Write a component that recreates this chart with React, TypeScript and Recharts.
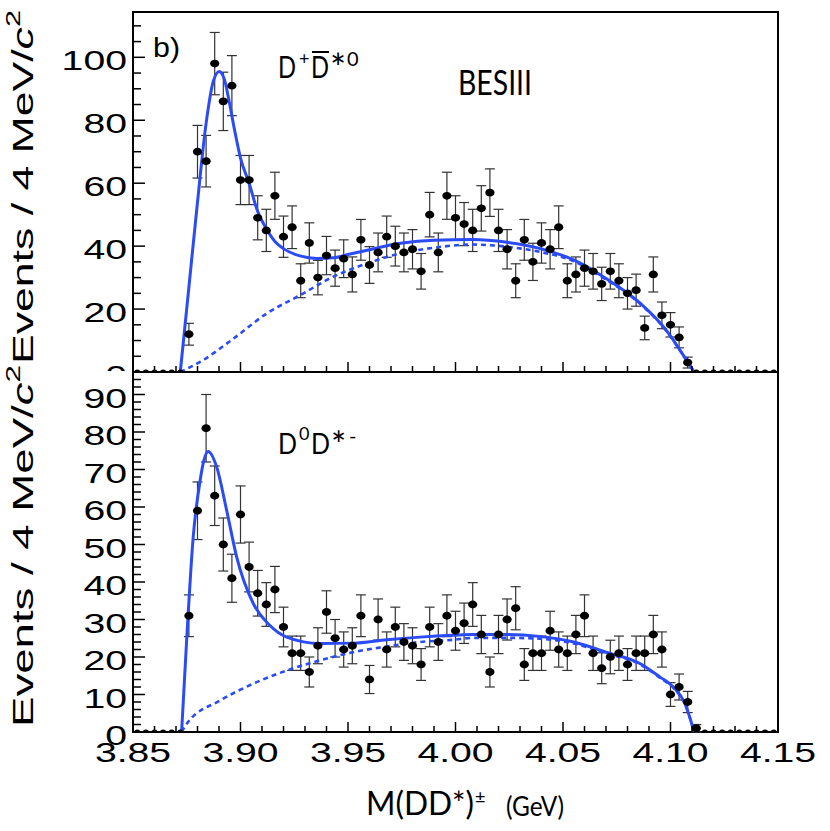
import React from "react"
import { ComposedChart, Line, Scatter, ErrorBar, XAxis, YAxis, ReferenceArea } from "recharts"

// 4 MeV bins, first bin centre at 3.852 GeV
const binStart = 3.852
const binWidth = 0.004

// D+ D*0bar events per bin (upper panel)
const plusCounts = [
  0, 0, 0, 0, 0, 0,
  12, 70, 67, 98, 86, 91, 61, 61, 49, 45,
  56, 43, 46, 29, 41, 30, 37, 33, 36, 31,
  42, 34, 38, 43, 40, 38, 39, 32, 50, 38,
  56, 49, 47, 45, 52, 57, 45, 39, 29, 42,
  35, 41, 39, 46, 29, 31, 33, 32, 28, 32,
  29, 25, 26, 14, 31, 18, 15, 11, 3,
  0, 0, 0, 0, 0, 0, 0, 0, 0, 0,
]

// D0 D*- events per bin (lower panel)
const zeroCounts = [
  0, 0, 0, 0, 0, 0,
  31, 59, 81, 63, 50, 41, 58, 44, 37, 34,
  38, 28, 21, 21, 16, 23, 32, 25, 22, 23,
  31, 14, 30, 22, 28, 24, 23, 18, 28, 24,
  31, 27, 29, 34, 26, 16, 26, 30, 33, 18,
  21, 21, 27, 22, 21, 26, 31, 21, 17, 20,
  21, 18, 21, 21, 26, 22, 10, 12, 8, 1,
  0, 0, 0, 0, 0, 0, 0, 0, 0,
]

// fit curves: [mass, events]
const plusFit = [
  [3.872, 0], [3.876, 27], [3.88, 54], [3.884, 79], [3.8874, 92.5], [3.8901, 95.5],
  [3.8925, 93], [3.895, 85], [3.8975, 76], [3.9, 68], [3.904, 60], [3.908, 51],
  [3.912, 45.5], [3.916, 41.5], [3.92, 39.2], [3.9277, 36.9], [3.9354, 36.1],
  [3.9432, 36.3], [3.951, 37.5], [3.9589, 38.7], [3.9744, 40.9], [3.99, 41.9],
  [4.008, 42.1], [4.024, 41.2], [4.039, 39.3], [4.055, 35.6], [4.07, 29.7],
  [4.086, 21.8], [4.098, 13.3], [4.106, 5.3], [4.111, 0],
]
const plusBkg = [
  [3.872, 0], [3.8812, 3.2], [3.8967, 10.6], [3.9122, 18.6], [3.9277, 24.4],
  [3.9432, 30.3], [3.9589, 34.5], [3.9744, 37.7], [3.99, 39.5], [4.008, 40.5],
  [4.024, 39.8], [4.039, 38.2], [4.055, 35.2], [4.07, 29.4], [4.086, 21.6],
  [4.098, 13.1], [4.106, 5.2], [4.111, 0],
]
const zeroFit = [
  [3.8726, 0], [3.875, 25], [3.878, 52], [3.8812, 67], [3.883, 72.5], [3.885, 74.8],
  [3.8889, 70.7], [3.8936, 59], [3.8982, 46.7], [3.906, 34.2], [3.9137, 28.4],
  [3.9215, 25.3], [3.937, 23.6], [3.9525, 23.7], [3.968, 24.6], [3.9835, 25.3],
  [3.9991, 25.8], [4.008, 26], [4.024, 26], [4.039, 25.5], [4.055, 24], [4.07, 21.3],
  [4.086, 18.2], [4.095, 14.7], [4.1013, 12], [4.1067, 7.6], [4.111, 0],
]
const zeroBkg = [
  [3.8726, 0], [3.875, 2.2], [3.8905, 8.4], [3.906, 12.9], [3.9215, 16.4],
  [3.937, 19.1], [3.9525, 21.3], [3.968, 22.8], [3.9835, 24], [3.9991, 24.6],
  [4.008, 25.1], [4.024, 25.1], [4.039, 24.9], [4.055, 23.6], [4.07, 21],
  [4.086, 18], [4.095, 14.5], [4.1013, 11.8], [4.1067, 7.5], [4.111, 0],
]

const xMajor = [3.85, 3.9, 3.95, 4.0, 4.05, 4.1, 4.15]
const xTicks = [
  3.85, 3.86, 3.87, 3.88, 3.89, 3.9, 3.91, 3.92, 3.93, 3.94, 3.95, 3.96, 3.97, 3.98, 3.99,
  4.0, 4.01, 4.02, 4.03, 4.04, 4.05, 4.06, 4.07, 4.08, 4.09, 4.1, 4.11, 4.12, 4.13, 4.14, 4.15,
]
const plusYMajor = [0, 20, 40, 60, 80, 100]
const zeroYMajor = [0, 10, 20, 30, 40, 50, 60, 70, 80, 90]
const plusYMax = 114.4
const zeroYMax = 96

const steps = (step: number, max: number) => {
  const out: number[] = []
  for (let v = 0; v <= max; v += step) out.push(v)
  return out
}
const plusYTicks = steps(5, 110)
const zeroYTicks = steps(2, 94)

const toPoints = (counts: number[]) =>
  counts.map((n, i) => ({ m: +(binStart + i * binWidth).toFixed(3), n, err: n > 0 ? Math.sqrt(n) : null }))
const toCurve = (pts: number[][]) => pts.map(([m, v]) => ({ m, v }))

const plusPoints = toPoints(plusCounts)
const zeroPoints = toPoints(zeroCounts)

const BLUE = "#2a4bf5"
const NUM_FONT = "'Liberation Sans', Arial, sans-serif"
const TXT_FONT = "Lato, 'Open Sans', sans-serif"

function XTick(props: any) {
  const { x, y, payload, labels } = props
  const major = xMajor.includes(payload.value)
  return (
    <g>
      <line x1={x} x2={x} y1={y} y2={y - (major ? 10 : 6)} stroke="#000" strokeWidth={1.5} />
      {labels && major && (
        <text transform={`translate(${x},${y + 30}) scale(1.4,1)`} textAnchor="middle" fontSize={28} fontFamily={NUM_FONT} fill="#000">
          {payload.value.toFixed(2)}
        </text>
      )}
    </g>
  )
}

function YTick(props: any) {
  const { x, y, payload, majors } = props
  const major = majors.includes(payload.value)
  return (
    <g>
      <line x1={x} x2={x + (major ? 12 : 8)} y1={y} y2={y} stroke="#000" strokeWidth={1.5} />
      {major && (
        <text transform={`translate(${x - 6},${y + 13}) scale(1.4,1)`} textAnchor="end" fontSize={28} fontFamily={NUM_FONT} fill="#000">
          {payload.value}
        </text>
      )}
    </g>
  )
}

function Dot(props: any) {
  const { cx, cy, payload } = props
  if (cx == null || cy == null) return null
  const empty = payload.n === 0
  return <ellipse cx={cx} cy={cy} rx={empty ? 3 : 4.6} ry={empty ? 2.5 : 3.9} fill="#000" />
}

function Panel({ points, fit, bkg, yMax, yTicks, yMajor, height, margin, xHeight, labels }: any) {
  return (
    <ComposedChart width={830} height={height} margin={margin}>
      <XAxis
        type="number" dataKey="m" domain={[3.85, 4.15]} ticks={xTicks} interval={0} allowDataOverflow
        height={xHeight} tickSize={0} tickMargin={0} axisLine={false} tickLine={false}
        tick={(p: any) => <XTick {...p} labels={labels} />}
      />
      <YAxis
        type="number" domain={[0, yMax]} ticks={yTicks} interval={0} allowDataOverflow
        width={133} tickSize={0} tickMargin={0} axisLine={false} tickLine={false}
        tick={(p: any) => <YTick {...p} majors={yMajor} />}
      />
      <ReferenceArea x1={3.85} x2={4.15} y1={0} y2={yMax} fill="none" stroke="#000" strokeWidth={2} />
      <Scatter data={points} dataKey="n" shape={<Dot />} isAnimationActive={false}>
        <ErrorBar dataKey="err" direction="y" width={5} stroke="#333" strokeWidth={1.2} isAnimationActive={false} />
      </Scatter>
      <Line data={toCurve(bkg)} dataKey="v" type="monotone" stroke={BLUE} strokeWidth={2.6} strokeDasharray="5 4" dot={false} activeDot={false} isAnimationActive={false} />
      <Line data={toCurve(fit)} dataKey="v" type="monotone" stroke={BLUE} strokeWidth={3} dot={false} activeDot={false} isAnimationActive={false} />
    </ComposedChart>
  )
}

export default function App() {
  return (
    <div style={{ position: "absolute", left: 0, top: 0, width: 830, height: 831, background: "#fff", overflow: "hidden" }}>
      <div style={{ position: "absolute", left: 0, top: 0 }}>
        <Panel
          points={plusPoints} fit={plusFit} bkg={plusBkg} yMax={plusYMax} yTicks={plusYTicks} yMajor={plusYMajor}
          height={380} margin={{ top: 12, right: 52, bottom: 0, left: 0 }} xHeight={8} labels={false}
        />
      </div>
      <div style={{ position: "absolute", left: 0, top: 371, background: "#fff" }}>
        <Panel
          points={zeroPoints} fit={zeroFit} bkg={zeroBkg} yMax={zeroYMax} yTicks={zeroYTicks} yMajor={zeroYMajor}
          height={460} margin={{ top: 1, right: 52, bottom: 39, left: 0 }} xHeight={60} labels={true}
        />
      </div>
      <svg width={830} height={831} style={{ position: "absolute", left: 0, top: 0, pointerEvents: "none" }}>
        <text x={33} y={187} transform="rotate(-90 33 187)" textAnchor="middle" fontSize={29} fontFamily={NUM_FONT} textLength={354} lengthAdjust="spacingAndGlyphs">
          Events / 4 MeV/<tspan fontStyle="italic">c</tspan><tspan fontSize={20} dy={-13}>2</tspan>
        </text>
        <text x={33} y={546} transform="rotate(-90 33 546)" textAnchor="middle" fontSize={29} fontFamily={NUM_FONT} textLength={362} lengthAdjust="spacingAndGlyphs">
          Events / 4 MeV/<tspan fontStyle="italic">c</tspan><tspan fontSize={20} dy={-13}>2</tspan>
        </text>

        <text x={153} y={57} fontSize={28} fontFamily={NUM_FONT} textLength={27} lengthAdjust="spacingAndGlyphs">b)</text>

        <g fontFamily={TXT_FONT} fill="#000">
          <text x={278} y={78} fontSize={31} textLength={18} lengthAdjust="spacingAndGlyphs">D</text>
          <text x={299} y={65} fontSize={18}>+</text>
          <line x1={312} x2={329} y1={52} y2={52} stroke="#000" strokeWidth={2} />
          <text x={311} y={78} fontSize={31} textLength={18} lengthAdjust="spacingAndGlyphs">D</text>
          <text x={330} y={82} fontSize={38}>*</text>
          <text x={347} y={66} fontSize={20}>0</text>

          <text x={458} y={95} fontSize={34} textLength={74} lengthAdjust="spacingAndGlyphs">BESIII</text>

          <text x={278} y={454} fontSize={29} textLength={19} lengthAdjust="spacingAndGlyphs">D</text>
          <text x={299} y={440} fontSize={18}>0</text>
          <text x={311} y={454} fontSize={29} textLength={19} lengthAdjust="spacingAndGlyphs">D</text>
          <text x={331} y={458} fontSize={36}>*</text>
          <text x={349} y={443} fontSize={20}>-</text>

          <text x={366} y={815} fontSize={32} textLength={108} lengthAdjust="spacingAndGlyphs">M(DD*)</text>
          <text x={475} y={803} fontSize={18}>±</text>
          <text x={506} y={816} fontSize={27} textLength={58} lengthAdjust="spacingAndGlyphs">(GeV)</text>
        </g>
      </svg>
    </div>
  )
}
